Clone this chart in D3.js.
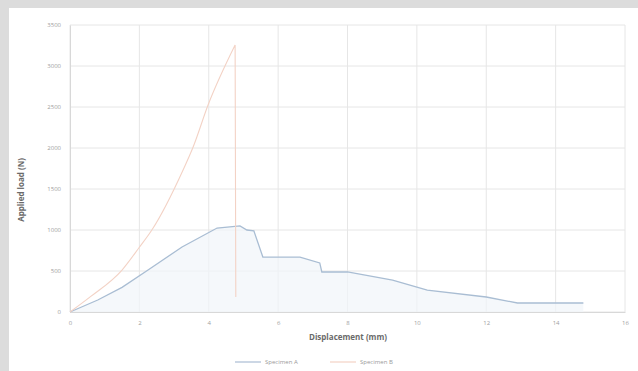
<!doctype html>
<html lang="en">
<head>
  <meta charset="UTF-8">
  <title>Load vs displacement</title>
  <style>
    body { margin: 0; background: #dcdcdc; }
    text { font-family: "Open Sans", "DejaVu Sans", sans-serif; }
  </style>
  <script src="https://cdn.jsdelivr.net/npm/d3@7"></script>
</head>
<body>
  <div id="container"></div>
  <script>
    // data: displacement (mm), load (N)
    var dispA = [0, 0.8, 1.5, 2.25, 3.23, 4.24, 4.9, 5.1, 5.3, 5.56, 6.63, 7.2, 7.26, 8.0, 9.3, 10.3, 12.0, 12.9, 14.8];
    var loadA = [0, 146, 300, 512, 793, 1024, 1050, 1000, 990, 670, 670, 598, 488, 488, 390, 268, 183, 110, 110];
    var dispB = [0, 0.6, 1.5, 2.0, 2.36, 3.26, 3.55, 3.98, 4.76, 4.78];
    var loadB = [0, 190, 512, 790, 1000, 1732, 2012, 2524, 3256, 183];
    var seriesNames = ["Specimen A", "Specimen B"];
    var xTicks = [0, 2, 4, 6, 8, 10, 12, 14, 16];
    var yTicks = [0, 500, 1000, 1500, 2000, 2500, 3000, 3500];
    var colors = ["#a9bdd3", "#f3d2c5"];

    var width = 638, height = 371,
      margin = { left: 70, top: 25, right: 13, bottom: 59 },
      g_width = width - margin.left - margin.right,
      g_height = height - margin.top - margin.bottom;

    var svg = d3.select('#container').append('svg').attr('width', width).attr('height', height);
    svg.append('rect').attr('x', 9).attr('y', 8).attr('width', width - 9).attr('height', height - 8).attr('fill', '#fff');

    var g = svg.append('g').attr('transform', 'translate(' + margin.left + ',' + margin.top + ')');

    var x = d3.scaleLinear().domain([0, 16]).range([0, g_width]);
    var y = d3.scaleLinear().domain([0, 3500]).range([g_height, 0]);

    // gridlines
    g.selectAll('.hgrid').data(yTicks).enter().append('line')
      .attr('x1', 0).attr('x2', g_width)
      .attr('y1', d => y(d)).attr('y2', d => y(d))
      .attr('stroke', '#e6e6e6');
    g.selectAll('.vgrid').data(xTicks).enter().append('line')
      .attr('y1', 0).attr('y2', g_height)
      .attr('x1', d => x(d)).attr('x2', d => x(d))
      .attr('stroke', '#e6e6e6');

    // axes
    var xAxis = g.append('g').attr('transform', 'translate(0,' + g_height + ')')
      .call(d3.axisBottom(x).tickValues(xTicks).tickSize(0).tickPadding(9));
    var yAxis = g.append('g')
      .call(d3.axisLeft(y).tickValues(yTicks).tickFormat(d3.format('d')).tickSize(0).tickPadding(9));
    [xAxis, yAxis].forEach(function (a) {
      a.select('.domain').attr('stroke', '#d8d8d8');
      a.selectAll('text').attr('fill', '#a0a0a0').style('font-size', '6px');
    });

    var rowsA = dispA.map((d, i) => [d, loadA[i]]);
    var rowsB = dispB.map((d, i) => [d, loadB[i]]);

    // faint fill under specimen A
    var area = d3.area().x(d => x(d[0])).y0(y(0)).y1(d => y(d[1]));
    g.append('path').attr('d', area(rowsA)).attr('fill', '#f1f5fa').attr('opacity', 0.7);

    var line = d3.line().x(d => x(d[0])).y(d => y(d[1]));
    g.append('path').attr('d', line(rowsA)).attr('fill', 'none')
      .attr('stroke', colors[0]).attr('stroke-width', 1.3);
    // B: smooth rise, then straight drop at failure
    var riseB = rowsB.slice(0, -1), dropB = rowsB.slice(-2);
    var smooth = d3.line().x(d => x(d[0])).y(d => y(d[1])).curve(d3.curveMonotoneX);
    g.append('path').attr('d', smooth(riseB) + line(dropB).replace('M', 'L')).attr('fill', 'none')
      .attr('stroke', colors[1]).attr('stroke-width', 1.1);

    // axis titles
    svg.append('text').attr('x', 348).attr('y', 340).attr('text-anchor', 'middle')
      .attr('fill', '#6a6a6a').style('font-size', '8px').style('font-weight', 'bold')
      .text('Displacement (mm)');
    svg.append('text').attr('transform', 'translate(24,190) rotate(-90)').attr('text-anchor', 'middle')
      .attr('fill', '#6a6a6a').style('font-size', '8px').style('font-weight', 'bold')
      .text('Applied load (N)');

    // legend
    var legend = svg.append('g').attr('transform', 'translate(235,362)');
    var lg = legend.selectAll('g').data(seriesNames).enter().append('g')
      .attr('transform', (d, i) => 'translate(' + (i * 95) + ',0)');
    lg.append('line').attr('x1', 0).attr('x2', 26).attr('y1', 0).attr('y2', 0)
      .attr('stroke', (d, i) => colors[i]).attr('stroke-width', 1.2);
    lg.append('text').attr('x', 30).attr('y', 2).attr('fill', '#9a9a9a')
      .style('font-size', '6px').text(d => d);
  </script>
</body>
</html>
